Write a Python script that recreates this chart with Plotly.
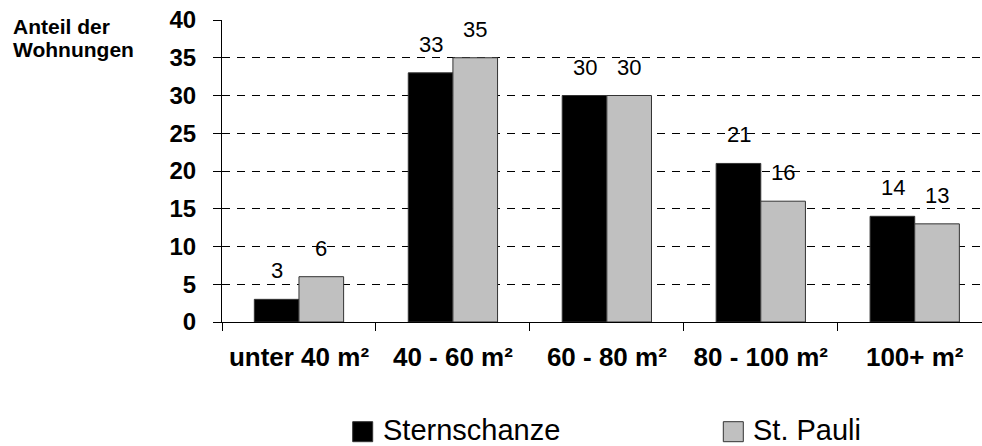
import plotly.graph_objects as go

# Wohnungsgrößen in Sternschanze und St. Pauli (Anteil in %)
categories = ["unter 40 m²", "40 - 60 m²", "60 - 80 m²", "80 - 100 m²", "100+ m²"]
sternschanze = [3, 33, 30, 21, 14]
st_pauli = [6, 35, 30, 16, 13]
series_names = ["Sternschanze", "St. Pauli"]
series_colors = ["#000000", "#C0C0C0"]
y_ticks = [0, 5, 10, 15, 20, 25, 30, 35, 40]

FONT = "Arial, Liberation Sans, sans-serif"
W, H = 982, 446
M_L, M_R, M_T, M_B = 222, 0, 20, 124
PLOT_W = W - M_L - M_R
PLOT_H = H - M_T - M_B


def px_x(p):
    return (p - M_L) / PLOT_W


def px_y(q):
    return (H - M_B - q) / PLOT_H


fig = go.Figure()
for name, vals, col in zip(series_names, [sternschanze, st_pauli], series_colors):
    fig.add_trace(go.Bar(
        x=categories, y=vals, name=name,
        marker=dict(color=col, line=dict(color="#333333", width=1)),
        showlegend=False,
    ))

# value labels above each bar
bar_half = 22
for vals, shift in [(sternschanze, -bar_half), (st_pauli, bar_half)]:
    for c, v in zip(categories, vals):
        fig.add_annotation(
            x=c, y=v, text=str(v), showarrow=False,
            xshift=shift, yshift=14, yanchor="bottom",
            font=dict(family=FONT, size=22, color="black"),
        )

# y-axis caption
for i, line in enumerate(["Anteil der", "Wohnungen"]):
    fig.add_annotation(
        x=0, y=1, xref="paper", yref="paper", xanchor="left", yanchor="top",
        text=line, showarrow=False, xshift=-M_L + 11, yshift=7 - 23 * i,
        font=dict(family=FONT, size=21, color="black", weight="bold"),
    )

# legend keys
legend_keys = [(352.7, 381.7), (723.3, 751.7)]
for (sx, tx), name, col in zip(legend_keys, series_names, series_colors):
    fig.add_shape(
        type="rect", xref="paper", yref="paper",
        x0=px_x(sx), x1=px_x(sx + 20), y0=px_y(441.7), y1=px_y(421.7),
        fillcolor=col, line=dict(color="#333333", width=1),
    )
    fig.add_annotation(
        x=px_x(tx), y=px_y(446), xref="paper", yref="paper",
        xanchor="left", yanchor="bottom", text=name, showarrow=False,
        yshift=-1, borderpad=0,
        font=dict(family=FONT, size=29, color="black"),
    )

fig.update_layout(
    width=W, height=H,
    margin=dict(l=M_L, r=M_R, t=M_T, b=M_B, pad=0),
    paper_bgcolor="white", plot_bgcolor="white",
    barmode="group", bargap=0.42, bargroupgap=0,
    font=dict(family=FONT, color="black"),
)
fig.update_xaxes(
    range=[-0.5, 4.437], showline=True, linecolor="black", linewidth=1,
    ticks="outside", tickson="boundaries", ticklen=8, tickcolor="black",
    tickfont=dict(family=FONT, size=26, color="black", weight="bold"),
    showgrid=False, zeroline=False, ticklabelstandoff=12,
)
fig.update_yaxes(
    range=[0, 40], tickvals=y_ticks, showline=True, linecolor="black", linewidth=1,
    ticks="outside", ticklen=8, tickcolor="black",
    tickfont=dict(family=FONT, size=24, color="black", weight="bold"),
    showgrid=True, gridcolor="black", gridwidth=1, griddash="8px,7px",
    zeroline=False, ticklabelstandoff=12,
)

fig.write_html("out.html")
